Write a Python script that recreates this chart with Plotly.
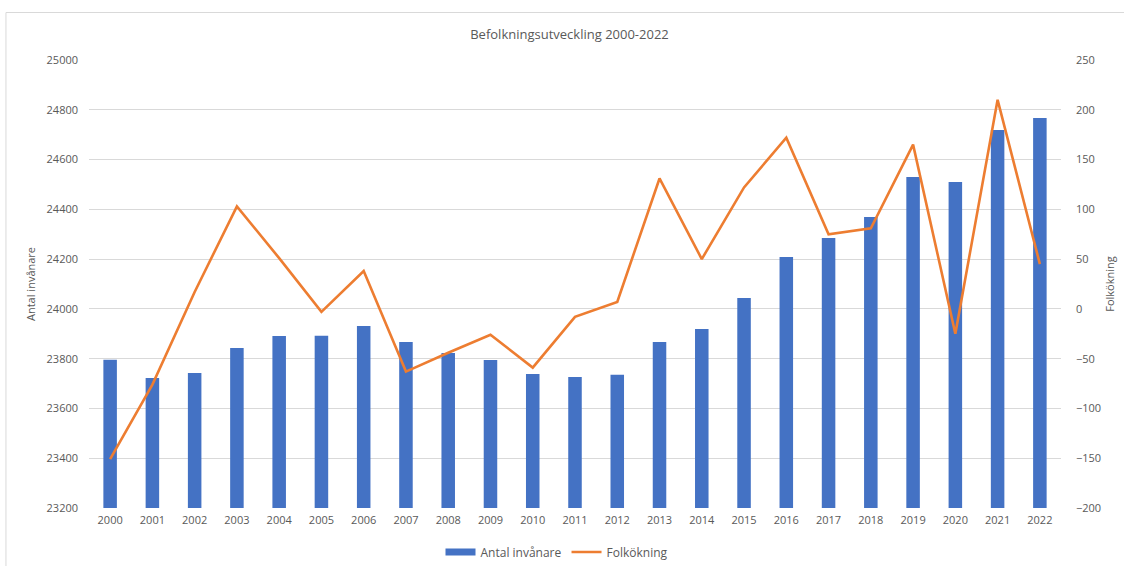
import plotly.graph_objects as go

years = [str(y) for y in range(2000, 2023)]
antal_invanare = [23796, 23722, 23742, 23843, 23891, 23892, 23931, 23867, 23823, 23795,
                  23738, 23726, 23735, 23867, 23919, 24044, 24208, 24285, 24369, 24530,
                  24510, 24719, 24767]
folkokning = [-151, -76, 17, 103, 51, -3, 38, -63, -44, -26,
              -59, -8, 7, 131, 50, 122, 172, 75, 81, 165,
              -25, 210, 45]

grey = "#595959"
blue = "#4472C4"
orange = "#ED7D31"
font_family = "Open Sans"

fig = go.Figure()
fig.add_trace(go.Bar(
    x=years, y=antal_invanare, name="Antal invånare",
    marker=dict(color=blue, line=dict(width=0)),
    width=0.32, yaxis="y", showlegend=False, legendgroup="a",
))
# legend entry drawn as a wide flat swatch, as in the reference
fig.add_trace(go.Scatter(
    x=[None], y=[None], name="Antal invånare", mode="lines",
    line=dict(color=blue, width=7), legendgroup="a", hoverinfo="skip",
))
fig.add_trace(go.Scatter(
    x=years, y=folkokning, name="Folkökning", mode="lines",
    line=dict(color=orange, width=2.6), yaxis="y2",
))

L, R, T, B = 89, 1060.6, 60, 508
W, H = 1124, 566
def px(x):
    return (x - L) / (R - L)
def py(y):
    return (B - y) / (B - T)

fig.update_layout(
    width=W, height=H,
    margin=dict(l=L, r=W - R, t=T, b=H - B, autoexpand=False),
    paper_bgcolor="white", plot_bgcolor="white",
    font=dict(family=font_family, size=11, color=grey),
    title=dict(text="Befolkningsutveckling 2000-2022", x=569.5 / W, xanchor="center",
               y=1 - 34 / H, yanchor="middle",
               font=dict(family=font_family, size=13, color=grey)),
    bargap=0.68,
    showlegend=True,
    legend=dict(orientation="h", x=557 / W, xanchor="center", xref="container",
                y=1 - 552 / H, yanchor="middle", yref="container",
                font=dict(family=font_family, size=12, color=grey),
                itemwidth=30, traceorder="normal", tracegroupgap=0),
    xaxis=dict(type="category", showgrid=False, showline=False, ticks="",
               tickfont=dict(size=11, color=grey), ticklabelstandoff=4),
    yaxis=dict(range=[23200, 25000], dtick=200, tickformat="d", showgrid=True,
               gridcolor="#D9D9D9", gridwidth=1, zeroline=False, showline=False, ticks="",
               tickfont=dict(size=11, color=grey), ticklabelstandoff=10,
               title=dict(text="Antal invånare", font=dict(size=11, color=grey), standoff=8)),
    yaxis2=dict(range=[-200, 250], dtick=50, tickformat="d", overlaying="y", side="right",
                showgrid=False, zeroline=False, showline=False, ticks="",
                tickfont=dict(size=11, color=grey), ticklabelstandoff=14,
                title=dict(text="Folkökning", font=dict(size=11, color=grey), standoff=6)),
    shapes=[dict(type="rect", xref="paper", yref="paper",
                 x0=px(6), x1=px(1130), y0=py(572), y1=py(12.5),
                 line=dict(color="#D9D9D9", width=1), fillcolor="rgba(0,0,0,0)",
                 layer="below")],
)

fig.write_html("out.html")
